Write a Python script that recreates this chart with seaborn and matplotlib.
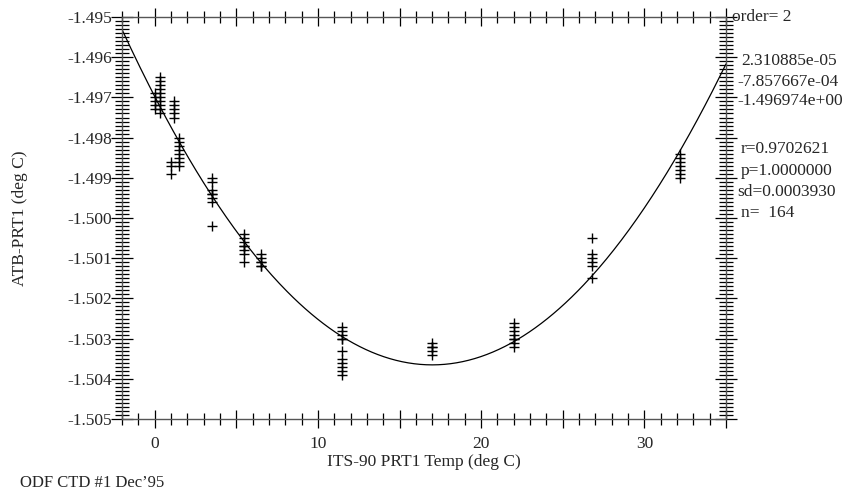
import numpy as np
import pandas as pd
import matplotlib
matplotlib.use("Agg")
import matplotlib.pyplot as plt
import seaborn as sns
from matplotlib.ticker import MultipleLocator, FixedLocator

# ---- data ----
x_00 = [0.0] * 5
y_00 = [-1.4969, -1.4970, -1.4971, -1.4972, -1.4973]
x_03 = [0.3] * 10
y_03 = [-1.4965, -1.4966, -1.4967, -1.4968, -1.4969, -1.4970, -1.4971, -1.4972, -1.4973, -1.4974]
x_10 = [1.0] * 3
y_10 = [-1.4986, -1.4987, -1.4989]
x_12 = [1.2] * 5
y_12 = [-1.4971, -1.4972, -1.4973, -1.4974, -1.4975]
x_15 = [1.5] * 8
y_15 = [-1.4980, -1.4981, -1.4982, -1.4983, -1.4984, -1.4985, -1.4986, -1.4987]
x_35 = [3.5] * 8
y_35 = [-1.4990, -1.4991, -1.4993, -1.4994, -1.4995, -1.4996, -1.4994, -1.5002]
x_55 = [5.5] * 8
y_55 = [-1.5004, -1.5005, -1.5006, -1.5007, -1.5007, -1.5008, -1.5009, -1.5011]
x_65 = [6.5] * 6
y_65 = [-1.5009, -1.5010, -1.5011, -1.5011, -1.5012, -1.5012]
x_115 = [11.5] * 11
y_115 = [-1.5027, -1.5028, -1.5029, -1.5030, -1.5033, -1.5035, -1.5036, -1.5037, -1.5038, -1.5039, -1.5030]
x_170 = [17.0] * 5
y_170 = [-1.5031, -1.5032, -1.5033, -1.5034, -1.5032]
x_220 = [22.0] * 8
y_220 = [-1.5026, -1.5027, -1.5028, -1.5029, -1.5030, -1.5031, -1.5032, -1.5030]
x_268 = [26.8] * 6
y_268 = [-1.5005, -1.5009, -1.5010, -1.5011, -1.5012, -1.5015]
x_322 = [32.2] * 7
y_322 = [-1.4984, -1.4985, -1.4986, -1.4987, -1.4988, -1.4989, -1.4990]

# fitted polynomial coefficients (as printed on the chart)
coef = [2.310885e-05, -7.857667e-04, -1.496974e+00]

x_ticks = [0, 10, 20, 30]
y_ticks = [-1.495, -1.496, -1.497, -1.498, -1.499, -1.500,
           -1.501, -1.502, -1.503, -1.504, -1.505]

xs = x_00 + x_03 + x_10 + x_12 + x_15 + x_35 + x_55 + x_65 + x_115 + x_170 + x_220 + x_268 + x_322
ys = y_00 + y_03 + y_10 + y_12 + y_15 + y_35 + y_55 + y_65 + y_115 + y_170 + y_220 + y_268 + y_322
df = pd.DataFrame({"x": xs, "y": ys})

xc = np.linspace(-2, 35, 400)
curve = pd.DataFrame({"x": xc, "y": np.polyval(coef, xc)})

sns.set_theme(style="white")
plt.rcParams["font.family"] = ["Liberation Serif", "DejaVu Serif"]

fs = 12.5
fig = plt.figure(figsize=(8.43, 4.91), dpi=100)
ax = fig.add_axes([122 / 843, 1 - 419 / 491, (726 - 122) / 843, (419 - 17) / 491])

sns.scatterplot(data=df, x="x", y="y", marker="+", s=55, color="black",
                linewidth=1.0, ax=ax, legend=False)
sns.lineplot(data=curve, x="x", y="y", color="black", linewidth=0.9, ax=ax,
             legend=False)

ax.set_xlim(-2, 35)
ax.set_ylim(-1.505, -1.495)

major_x = list(range(0, 36, 5))
ax.xaxis.set_major_locator(FixedLocator(major_x))
ax.set_xticklabels([str(t) if t in x_ticks else "" for t in major_x])
ax.xaxis.set_minor_locator(MultipleLocator(1))
ax.yaxis.set_major_locator(FixedLocator(y_ticks))
ax.set_yticklabels([f"{v:.3f}" for v in y_ticks])
ax.yaxis.set_minor_locator(MultipleLocator(0.0001))

ax.tick_params(axis="both", which="both", direction="inout", color="black",
               top=True, right=True, left=True, bottom=True,
               labelsize=fs, width=0.9)
ax.tick_params(axis="x", which="major", length=13, pad=6)
ax.tick_params(axis="y", which="major", length=16, pad=-1)
ax.tick_params(axis="x", which="minor", length=9)
ax.tick_params(axis="y", which="minor", length=10)

for s in ax.spines.values():
    s.set_color("#555555")
    s.set_linewidth(1.0)

ax.set_xlabel("ITS-90 PRT1 Temp (deg C)", fontsize=fs)
ax.set_ylabel("ATB-PRT1 (deg C)", fontsize=fs)
ax.xaxis.set_label_coords(0.5, (419 - 462) / 402)
ax.yaxis.set_label_coords((20 - 122) / 604, 0.5)
ax.yaxis.label.set_va("center")
ax.xaxis.label.set_va("center")

def ftxt(px, py, s, size=fs):
    fig.text(px / 843, 1 - py / 491, s, fontsize=size, va="center", ha="left")

ftxt(732, 17, "order= 2")
ftxt(741, 61, "2.310885e-05")
ftxt(737, 82, "-7.857667e-04")
ftxt(737, 101, "-1.496974e+00")
ftxt(741, 149, "r=0.9702621")
ftxt(741, 171, "p=1.0000000")
ftxt(737, 192, "sd=0.0003930")
ftxt(741, 213, "n=  164")
ftxt(20, 483, "ODF CTD #1 Dec\u201995", size=12)

fig.savefig("out.png", dpi=100, facecolor="white")
